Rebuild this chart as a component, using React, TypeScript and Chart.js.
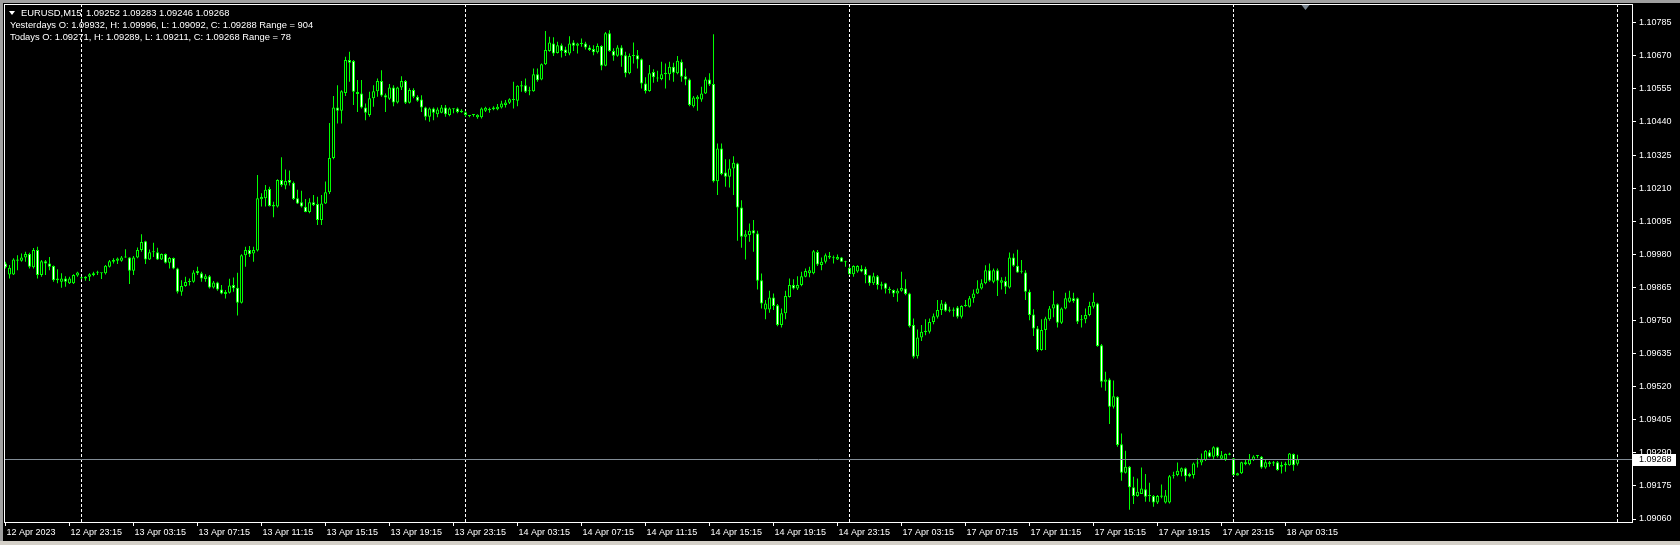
import React, { useEffect, useRef } from "react";
import { Chart, registerables } from "chart.js";

Chart.register(...registerables);

// ---- Data (prices in 1e-5 units above 1.00000, e.g. 9948 => 1.09948) ----
const OPEN = [
  9948, 9910, 9910, 9962, 9958, 9969, 9981, 9935, 9995, 9908,
  9956, 9948, 9939, 9890, 9885, 9896, 9879, 9879, 9906, 9900,
  9896, 9902, 9908, 9916, 9914, 9914, 9937, 9954, 9958, 9958,
  9969, 9969, 9923, 9969, 9995, 10025, 9962, 9987, 9987, 9962,
  9981, 9951, 9967, 9931, 9850, 9870, 9884, 9885, 9922, 9914,
  9894, 9904, 9865, 9882, 9858, 9842, 9846, 9873, 9864, 9812,
  9977, 9995, 9983, 9993, 10171, 10175, 10207, 10151, 10146, 10238,
  10219, 10238, 10229, 10175, 10161, 10145, 10127, 10161, 10155, 10099,
  10157, 10196, 10315, 10490, 10479, 10541, 10655, 10652, 10544, 10539,
  10490, 10464, 10522, 10547, 10582, 10533, 10521, 10560, 10508, 10560,
  10582, 10507, 10551, 10528, 10518, 10490, 10458, 10487, 10467, 10472,
  10490, 10464, 10487, 10487, 10479, 10474, 10463, 10464, 10456, 10456,
  10479, 10486, 10484, 10484, 10490, 10499, 10507, 10519, 10514, 10563,
  10568, 10547, 10547, 10606, 10588, 10641, 10687, 10713, 10680, 10707,
  10692, 10678, 10716, 10705, 10713, 10713, 10699, 10694, 10682, 10704,
  10635, 10748, 10687, 10670, 10699, 10672, 10609, 10669, 10672, 10658,
  10574, 10548, 10614, 10592, 10589, 10606, 10606, 10632, 10609, 10649,
  10599, 10588, 10495, 10519, 10518, 10539, 10588, 10572, 10234, 10348,
  10264, 10250, 10278, 10296, 10143, 10041, 10047, 10064, 10052, 9890,
  9788, 9788, 9830, 9803, 9734, 9775, 9832, 9873, 9861, 9873,
  9902, 9914, 9914, 9988, 9943, 9954, 9975, 9966, 9962, 9969,
  9955, 9932, 9911, 9920, 9929, 9930, 9907, 9879, 9904, 9876,
  9879, 9860, 9856, 9844, 9853, 9861, 9844, 9734, 9626, 9691,
  9710, 9711, 9745, 9763, 9786, 9809, 9788, 9784, 9795, 9763,
  9800, 9798, 9827, 9844, 9861, 9879, 9925, 9885, 9925, 9881,
  9887, 9865, 9969, 9940, 9919, 9917, 9850, 9771, 9722, 9647,
  9717, 9754, 9792, 9806, 9742, 9792, 9815, 9827, 9827, 9751,
  9754, 9769, 9798, 9809, 9664, 9537, 9545, 9450, 9485, 9320,
  9221, 9242, 9170, 9140, 9147, 9163, 9140, 9140, 9117, 9137,
  9117, 9117, 9210, 9213, 9224, 9236, 9216, 9213, 9253, 9256,
  9265, 9292, 9276, 9309, 9269, 9267, 9283, 9271, 9211, 9219,
  9250, 9250, 9265, 9279, 9276, 9239, 9257, 9253, 9257, 9242,
  9247, 9247, 9286, 9252,
];

const HIGH = [
  9954, 9943, 9966, 9977, 9983, 9989, 9985, 10002, 10006, 9960,
  9960, 9971, 9941, 9928, 9914, 9904, 9902, 9911, 9919, 9902,
  9904, 9914, 9919, 9923, 9916, 9943, 9960, 9966, 9969, 9974,
  9998, 9971, 9974, 10004, 10050, 10027, 9997, 10020, 10003, 9983,
  9983, 9971, 9969, 9933, 9890, 9902, 9896, 9925, 9937, 9919,
  9911, 9908, 9887, 9885, 9873, 9856, 9895, 9899, 9916, 9980,
  10006, 10009, 10006, 10256, 10192, 10221, 10215, 10163, 10241, 10317,
  10275, 10271, 10233, 10204, 10201, 10172, 10175, 10186, 10180, 10186,
  10233, 10436, 10530, 10568, 10550, 10667, 10684, 10655, 10586, 10586,
  10504, 10545, 10568, 10591, 10620, 10539, 10572, 10568, 10562, 10599,
  10586, 10557, 10557, 10533, 10533, 10493, 10490, 10490, 10490, 10499,
  10499, 10490, 10487, 10490, 10484, 10479, 10464, 10467, 10467, 10490,
  10493, 10490, 10495, 10502, 10514, 10516, 10522, 10580, 10568, 10582,
  10591, 10562, 10626, 10626, 10643, 10756, 10736, 10734, 10719, 10713,
  10701, 10738, 10724, 10715, 10730, 10719, 10707, 10707, 10713, 10707,
  10753, 10759, 10696, 10707, 10707, 10684, 10678, 10716, 10690, 10661,
  10595, 10638, 10623, 10618, 10649, 10643, 10649, 10646, 10669, 10657,
  10626, 10591, 10530, 10533, 10562, 10595, 10609, 10745, 10365, 10365,
  10310, 10310, 10321, 10298, 10168, 10064, 10087, 10099, 10062, 9913,
  9821, 9853, 9844, 9807, 9792, 9853, 9896, 9893, 9904, 9919,
  9931, 9937, 9995, 9995, 9969, 9983, 9988, 9976, 9979, 9971,
  9958, 9937, 9942, 9942, 9942, 9937, 9908, 9916, 9908, 9885,
  9881, 9867, 9858, 9861, 9919, 9893, 9846, 9757, 9719, 9734,
  9754, 9757, 9774, 9821, 9821, 9815, 9798, 9795, 9800, 9803,
  9821, 9835, 9858, 9890, 9893, 9942, 9948, 9931, 9931, 9900,
  9902, 9986, 9983, 9996, 9960, 9925, 9858, 9789, 9731, 9754,
  9763, 9800, 9853, 9809, 9795, 9846, 9853, 9846, 9830, 9769,
  9792, 9815, 9846, 9812, 9668, 9572, 9549, 9541, 9487, 9357,
  9297, 9244, 9207, 9201, 9239, 9216, 9186, 9143, 9143, 9180,
  9161, 9213, 9224, 9256, 9239, 9239, 9221, 9256, 9271, 9288,
  9300, 9300, 9313, 9311, 9296, 9288, 9290, 9272, 9221, 9259,
  9265, 9286, 9282, 9282, 9279, 9265, 9262, 9262, 9262, 9259,
  9259, 9289, 9288, 9283,
];

const LOW = [
  9931, 9896, 9908, 9925, 9954, 9954, 9931, 9931, 9896, 9902,
  9908, 9925, 9885, 9879, 9864, 9867, 9877, 9877, 9902, 9893,
  9888, 9887, 9904, 9908, 9894, 9910, 9934, 9948, 9946, 9954,
  9968, 9877, 9908, 9966, 9989, 9946, 9960, 9971, 9960, 9960,
  9948, 9931, 9928, 9844, 9836, 9867, 9872, 9881, 9908, 9885,
  9885, 9861, 9861, 9853, 9841, 9826, 9844, 9850, 9767, 9809,
  9937, 9971, 9954, 9990, 10146, 10146, 10146, 10109, 10143, 10215,
  10206, 10219, 10169, 10155, 10143, 10126, 10123, 10148, 10082, 10082,
  10155, 10190, 10310, 10435, 10435, 10530, 10580, 10499, 10475, 10487,
  10446, 10458, 10493, 10528, 10528, 10475, 10516, 10495, 10504, 10551,
  10502, 10504, 10522, 10510, 10475, 10446, 10441, 10446, 10456, 10470,
  10458, 10460, 10470, 10470, 10472, 10458, 10456, 10458, 10451, 10452,
  10475, 10472, 10481, 10481, 10487, 10490, 10502, 10487, 10495, 10545,
  10541, 10533, 10545, 10580, 10585, 10638, 10684, 10669, 10678, 10664,
  10669, 10672, 10687, 10678, 10701, 10692, 10687, 10672, 10678, 10620,
  10634, 10684, 10653, 10667, 10632, 10595, 10606, 10643, 10626, 10556,
  10539, 10545, 10576, 10580, 10585, 10556, 10585, 10580, 10606, 10580,
  10568, 10495, 10490, 10479, 10510, 10537, 10565, 10230, 10186, 10255,
  10215, 10212, 10186, 10027, 10003, 9962, 10024, 9989, 9858, 9792,
  9754, 9777, 9786, 9730, 9726, 9754, 9830, 9858, 9856, 9869,
  9900, 9900, 9911, 9939, 9925, 9948, 9964, 9948, 9960, 9953,
  9937, 9908, 9902, 9916, 9918, 9879, 9871, 9873, 9858, 9858,
  9844, 9844, 9832, 9815, 9850, 9838, 9726, 9618, 9618, 9679,
  9699, 9705, 9737, 9757, 9769, 9780, 9779, 9763, 9757, 9757,
  9798, 9795, 9812, 9842, 9858, 9876, 9885, 9879, 9835, 9858,
  9842, 9861, 9937, 9916, 9913, 9821, 9751, 9696, 9641, 9645,
  9647, 9749, 9761, 9726, 9738, 9789, 9812, 9812, 9738, 9726,
  9740, 9765, 9792, 9659, 9517, 9506, 9390, 9444, 9311, 9193,
  9218, 9092, 9112, 9137, 9147, 9120, 9120, 9103, 9112, 9132,
  9114, 9114, 9201, 9209, 9209, 9190, 9205, 9201, 9239, 9247,
  9262, 9274, 9267, 9274, 9265, 9262, 9282, 9211, 9211, 9216,
  9247, 9247, 9262, 9271, 9235, 9235, 9242, 9244, 9228, 9218,
  9224, 9245, 9228, 9246,
];

const CLOSE = [
  9935, 9933, 9962, 9958, 9969, 9981, 9937, 9995, 9908, 9956,
  9948, 9937, 9890, 9896, 9896, 9885, 9896, 9908, 9917, 9897,
  9902, 9911, 9914, 9916, 9914, 9940, 9956, 9960, 9965, 9969,
  9970, 9923, 9969, 9995, 10023, 9962, 9987, 9988, 9962, 9981,
  9951, 9967, 9931, 9850, 9870, 9884, 9887, 9917, 9914, 9896,
  9904, 9865, 9882, 9858, 9844, 9849, 9872, 9862, 9812, 9977,
  9995, 9980, 9995, 10175, 10179, 10204, 10148, 10146, 10238, 10221,
  10235, 10229, 10172, 10157, 10146, 10127, 10161, 10151, 10099, 10157,
  10196, 10315, 10490, 10479, 10547, 10655, 10646, 10545, 10537, 10490,
  10472, 10522, 10547, 10582, 10532, 10525, 10560, 10508, 10560, 10582,
  10507, 10551, 10528, 10514, 10490, 10458, 10487, 10472, 10483, 10490,
  10467, 10487, 10484, 10475, 10474, 10464, 10461, 10464, 10465, 10487,
  10489, 10481, 10490, 10493, 10504, 10508, 10519, 10516, 10566, 10568,
  10545, 10547, 10606, 10585, 10641, 10690, 10716, 10678, 10707, 10687,
  10680, 10713, 10705, 10713, 10711, 10699, 10690, 10682, 10704, 10635,
  10748, 10687, 10670, 10699, 10670, 10609, 10669, 10672, 10657, 10574,
  10548, 10609, 10595, 10591, 10606, 10611, 10632, 10611, 10653, 10597,
  10588, 10499, 10525, 10528, 10539, 10588, 10570, 10234, 10348, 10259,
  10250, 10278, 10298, 10143, 10041, 10050, 10062, 10052, 9888, 9809,
  9809, 9830, 9800, 9734, 9775, 9835, 9873, 9861, 9873, 9904,
  9922, 9925, 9991, 9945, 9954, 9977, 9969, 9966, 9971, 9954,
  9952, 9911, 9939, 9939, 9920, 9908, 9879, 9904, 9873, 9871,
  9860, 9856, 9844, 9853, 9863, 9842, 9730, 9624, 9691, 9711,
  9714, 9745, 9765, 9786, 9809, 9784, 9784, 9788, 9763, 9800,
  9800, 9827, 9844, 9861, 9879, 9925, 9888, 9925, 9888, 9890,
  9867, 9969, 9940, 9917, 9919, 9850, 9769, 9722, 9647, 9717,
  9757, 9792, 9806, 9742, 9792, 9827, 9830, 9818, 9746, 9753,
  9769, 9800, 9815, 9661, 9537, 9545, 9450, 9487, 9317, 9221,
  9242, 9170, 9140, 9155, 9166, 9137, 9140, 9117, 9140, 9142,
  9142, 9209, 9213, 9228, 9236, 9209, 9209, 9253, 9256, 9267,
  9297, 9276, 9309, 9279, 9282, 9286, 9288, 9213, 9219, 9257,
  9257, 9267, 9277, 9279, 9239, 9257, 9251, 9257, 9230, 9248,
  9253, 9288, 9247, 9268,
];

const X_TICK_BARS = [0, 16, 32, 48, 64, 80, 96, 112, 128, 144, 160, 176, 192, 208, 224, 240, 256, 272, 288, 304, 320];
const X_TICK_LABELS = [
  "12 Apr 2023", "12 Apr 23:15", "13 Apr 03:15", "13 Apr 07:15", "13 Apr 11:15", "13 Apr 15:15",
  "13 Apr 19:15", "13 Apr 23:15", "14 Apr 03:15", "14 Apr 07:15", "14 Apr 11:15", "14 Apr 15:15",
  "14 Apr 19:15", "14 Apr 23:15", "17 Apr 03:15", "17 Apr 07:15", "17 Apr 11:15", "17 Apr 15:15",
  "17 Apr 19:15", "17 Apr 23:15", "18 Apr 03:15",
];
const DAY_SEPARATOR_BARS = [19, 115, 211, 307, 403];
const Y_TICKS = [
  1.0906, 1.09175, 1.0929, 1.09405, 1.0952, 1.09635, 1.0975, 1.09865,
  1.0998, 1.10095, 1.1021, 1.10325, 1.1044, 1.10555, 1.1067, 1.10785,
];
const CHART_SHIFT_BAR = 325;

const HEADER_SYMBOL = "EURUSD,M15";
const HEADER_LAST = "1.09252 1.09283 1.09246 1.09268";
const HEADER_YESTERDAY = "Yesterdays O: 1.09932, H: 1.09996, L: 1.09092, C: 1.09288 Range = 904";
const HEADER_TODAY = "Todays O: 1.09271, H: 1.09289, L: 1.09211, C: 1.09268 Range = 78";

const toPrice = (v: number) => 1 + v / 100000;
const FONT = "'Liberation Sans', Arial, sans-serif";
const LIME = "#00ff00";

export default function App() {
  const ref = useRef<HTMLCanvasElement | null>(null);

  useEffect(() => {
    const canvas = ref.current;
    if (!canvas) return;
    const n = CLOSE.length;
    const bodies = [];
    const wicks = [];
    const fills: string[] = [];
    for (let i = 0; i < n; i++) {
      const o = toPrice(OPEN[i]);
      const c = toPrice(CLOSE[i]);
      bodies.push({ x: i, y: [o, c] });
      wicks.push({ x: i, y: [toPrice(LOW[i]), toPrice(HIGH[i])] });
      fills.push(CLOSE[i] >= OPEN[i] ? "#000000" : "#ffffff");
    }
    const lastPrice = toPrice(CLOSE[n - 1]);

    const decor = {
      id: "mt4decor",
      beforeDatasetsDraw(chart: any) {
        const { ctx, chartArea, scales } = chart;
        ctx.save();
        ctx.strokeStyle = "#ffffff";
        ctx.lineWidth = 1;
        ctx.setLineDash([3, 2]);
        for (const b of DAY_SEPARATOR_BARS) {
          const x = Math.floor(scales.x.getPixelForValue(b)) + 0.5;
          ctx.beginPath();
          ctx.moveTo(x, chartArea.top);
          ctx.lineTo(x, chartArea.bottom);
          ctx.stroke();
        }
        ctx.restore();
      },
      afterDatasetsDraw(chart: any) {
        const { ctx, chartArea, scales } = chart;
        ctx.save();
        const yp = Math.round(scales.y.getPixelForValue(lastPrice)) + 0.5;
        ctx.strokeStyle = "#828c96";
        ctx.lineWidth = 1;
        ctx.beginPath();
        ctx.moveTo(chartArea.left, yp);
        ctx.lineTo(chartArea.right, yp);
        ctx.stroke();
        ctx.strokeStyle = "#ffffff";
        ctx.strokeRect(chartArea.left + 0.5, chartArea.top + 0.5, chartArea.right - chartArea.left - 1, chartArea.bottom - chartArea.top - 1);
        const sx = scales.x.getPixelForValue(CHART_SHIFT_BAR);
        ctx.fillStyle = "#7a8590";
        ctx.beginPath();
        ctx.moveTo(sx - 4, chartArea.top + 1);
        ctx.lineTo(sx + 4, chartArea.top + 1);
        ctx.lineTo(sx, chartArea.top + 6);
        ctx.closePath();
        ctx.fill();
        ctx.restore();
      },
      afterDraw(chart: any) {
        const { ctx, chartArea, scales } = chart;
        const yc = Math.round(scales.y.getPixelForValue(lastPrice));
        ctx.save();
        ctx.fillStyle = "#ffffff";
        ctx.fillRect(chartArea.right, yc - 5, 43, 12);
        ctx.fillStyle = "#000000";
        ctx.font = `9px ${FONT}`;
        ctx.textBaseline = "middle";
        ctx.textAlign = "left";
        ctx.fillText(lastPrice.toFixed(5), chartArea.right + 6, yc + 1);
        ctx.restore();
      },
    };

    const chart = new Chart(canvas, {
      type: "bar",
      data: {
        datasets: [
          {
            label: "body",
            data: bodies as any,
            backgroundColor: fills,
            borderColor: LIME,
            borderWidth: 1,
            borderSkipped: false,
            grouped: false,
            barThickness: 3,
            maxBarThickness: 3,
            minBarLength: 1,
            inflateAmount: 0,
            order: 0,
          } as any,
          {
            label: "wick",
            data: wicks as any,
            backgroundColor: LIME,
            borderWidth: 0,
            borderSkipped: false,
            grouped: false,
            barThickness: 1,
            maxBarThickness: 1,
            minBarLength: 1,
            inflateAmount: 0,
            order: 1,
          } as any,
        ],
      },
      options: {
        animation: false,
        responsive: false,
        events: [],
        layout: { padding: { left: 4, top: 4, right: 0, bottom: 0 } },
        plugins: {
          legend: { display: false },
          tooltip: { enabled: false },
          title: { display: false },
        },
        scales: {
          x: {
            type: "linear",
            position: "bottom",
            offset: false,
            bounds: "data",
            min: -0.375,
            max: 406.875,
            grid: { display: true, offset: false, drawOnChartArea: false, drawTicks: true, tickLength: 3, color: "#ffffff", lineWidth: 1 },
            border: { display: false },
            ticks: {
              autoSkip: false,
              maxRotation: 0,
              minRotation: 0,
              align: "start",
              padding: 1,
              labelOffset: 1,
              color: "#ffffff",
              font: { family: FONT, size: 9 },
              callback: (_v: any, idx: number) => X_TICK_LABELS[idx] ?? "",
            },
            afterBuildTicks: (s: any) => {
              s.ticks = X_TICK_BARS.map((v) => ({ value: v }));
            },
            afterFit: (s: any) => {
              s.height = 22;
              s.paddingLeft = 0;
              s.paddingRight = 0;
            },
          } as any,
          y: {
            type: "linear",
            position: "right",
            min: 1.090461,
            max: 1.1085,
            grid: { display: true, drawOnChartArea: false, drawTicks: true, tickLength: 3, color: "#ffffff", lineWidth: 1 },
            border: { display: false },
            ticks: {
              padding: 3,
              color: "#ffffff",
              font: { family: FONT, size: 9 },
              callback: (v: any) => Number(v).toFixed(5),
            },
            afterBuildTicks: (s: any) => {
              s.ticks = Y_TICKS.map((v) => ({ value: v }));
            },
            afterFit: (s: any) => {
              s.width = 47;
              s.paddingTop = 0;
              s.paddingBottom = 0;
            },
          } as any,
        },
      },
      plugins: [decor],
    });
    return () => chart.destroy();
  }, []);

  const textStyle: React.CSSProperties = {
    position: "absolute",
    left: 10,
    color: "#ffffff",
    fontFamily: FONT,
    fontSize: "9.4px",
    lineHeight: "12px",
    whiteSpace: "pre",
  };

  return (
    <div style={{ position: "fixed", left: 0, top: 0, width: 1680, height: 545, background: "#000", overflow: "hidden" }}>
      <canvas ref={ref} width={1680} height={545} style={{ position: "absolute", left: 0, top: 0, width: 1680, height: 545 }} />
      <div style={{ position: "absolute", left: 9, top: 11, width: 0, height: 0, borderLeft: "3px solid transparent", borderRight: "3px solid transparent", borderTop: "4px solid #ffffff" }} />
      <div style={{ ...textStyle, left: 21, top: 7 }}>{HEADER_SYMBOL}</div>
      <div style={{ ...textStyle, left: 86, top: 7 }}>{HEADER_LAST}</div>
      <div style={{ ...textStyle, top: 19 }}>{HEADER_YESTERDAY}</div>
      <div style={{ ...textStyle, top: 31 }}>{HEADER_TODAY}</div>
      <div style={{ position: "absolute", left: 0, top: 0, width: 1680, height: 3, background: "#a0a0a0" }} />
      <div style={{ position: "absolute", left: 0, top: 0, width: 3, height: 545, background: "#a0a0a0" }} />
      <div style={{ position: "absolute", left: 0, top: 541, width: 1680, height: 4, background: "#d4d0c8" }} />
    </div>
  );
}
